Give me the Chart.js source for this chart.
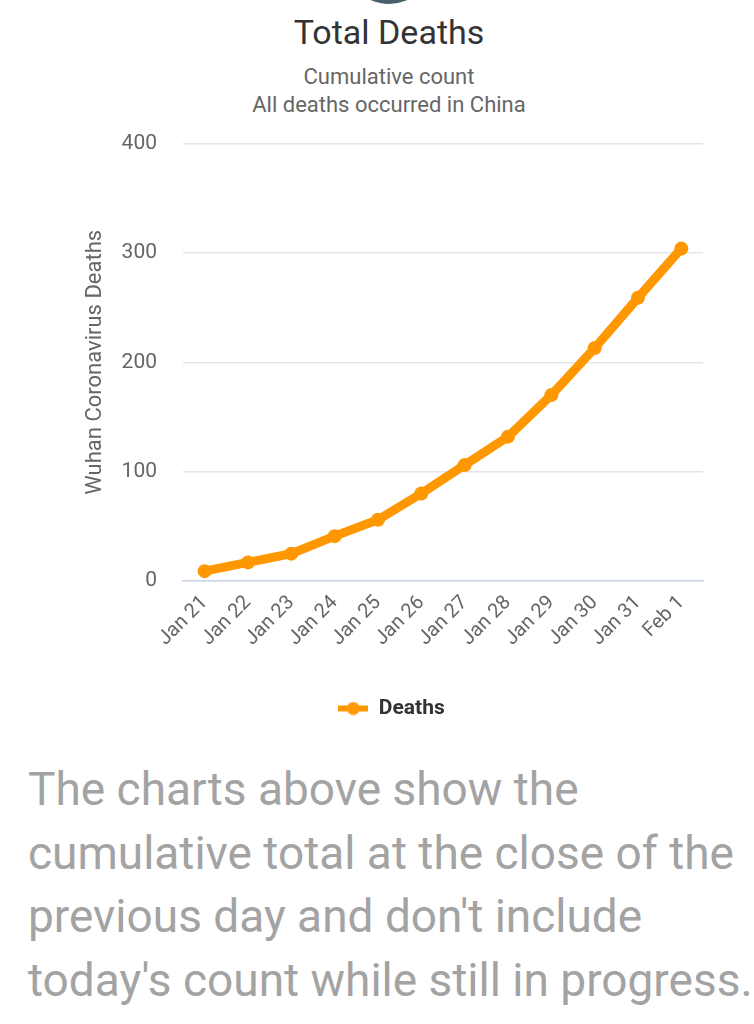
<!DOCTYPE html>
<html>
<head>
<meta charset="utf-8">
<script src="https://cdn.jsdelivr.net/npm/chart.js@4"></script>
<style>
  html, body { margin: 0; padding: 0; background: #fff; width: 754px; height: 1024px; overflow: hidden; font-family: Roboto, "Noto Sans", sans-serif; }
  .badge { position: absolute; left: 344px; top: -86px; width: 90px; height: 90px; border-radius: 50%; background: radial-gradient(circle at 50% 40%, #5e7885, #3f5763); }
  .head { position: absolute; left: 0; width: 778px; text-align: center; }
  .title { top: 12px; font-size: 34px; color: #333; }
  .sub { top: 63px; font-size: 22px; line-height: 28px; color: #666; }
  .wrap { position: absolute; left: 0; top: 105px; width: 754px; height: 624px; }
  .note { position: absolute; left: 28px; top: 758px; width: 726px; margin: 0; font-size: 46px; line-height: 63.5px; color: #a3a3a3; }
</style>
</head>
<body>
<div class="badge"></div>
<div class="head title">Total Deaths</div>
<div class="head sub">Cumulative count<br>All deaths occurred in China</div>
<div class="wrap"><canvas id="chart-deaths" width="754" height="624"></canvas></div>
<p class="note">The charts above show the cumulative total at the close of the previous day and don't include today's count while still in progress.</p>
<script>
  const days = ['Jan 21', 'Jan 22', 'Jan 23', 'Jan 24', 'Jan 25', 'Jan 26', 'Jan 27', 'Jan 28', 'Jan 29', 'Jan 30', 'Jan 31', 'Feb 1'];
  const deaths = [9, 17, 25, 41, 56, 80, 106, 132, 170, 213, 259, 304];
  const yTicks = [0, 100, 200, 300, 400];

  const ORANGE = '#ff9800';

  // legend symbol: short line with a dot, like the original
  function legendSymbol() {
    const c = document.createElement('canvas');
    c.width = 30; c.height = 14;
    const ctx = c.getContext('2d');
    ctx.fillStyle = ORANGE;
    ctx.fillRect(0, 4, 30, 6);
    ctx.beginPath();
    ctx.arc(15, 7, 6.5, 0, Math.PI * 2);
    ctx.fill();
    return c;
  }

  new Chart(document.getElementById('chart-deaths'), {
    type: 'line',
    data: {
      labels: days,
      datasets: [{
        label: 'Deaths',
        data: deaths,
        borderColor: ORANGE,
        backgroundColor: ORANGE,
        borderWidth: 9,
        pointRadius: 7,
        pointBackgroundColor: ORANGE,
        pointBorderWidth: 0,
        tension: 0,
      }],
    },
    options: {
      responsive: false,
      animation: false,
      layout: { padding: { left: 80, right: 51, top: 10, bottom: 0 } },
      plugins: {
        tooltip: { enabled: false },
        legend: {
          position: 'bottom',
          labels: {
            usePointStyle: true,
            pointStyle: legendSymbol(),
            pointStyleWidth: 30,
            color: '#333',
            font: { family: 'Roboto', size: 21, weight: 'bold' },
            padding: 14,
          },
        },
      },
      scales: {
        x: {
          offset: true,
          grid: { display: false, drawTicks: false },
          border: { color: '#ccd6eb', width: 1.5 },
          ticks: {
            color: '#666',
            font: { family: 'Roboto', size: 20 },
            minRotation: 45,
            maxRotation: 45,
            padding: 10,
            autoSkip: false,
          },
          afterFit(scale) { scale.height = 103; },
        },
        y: {
          min: 0,
          max: 400,
          afterBuildTicks(scale) { scale.ticks = yTicks.map((v) => ({ value: v })); },
          grid: { color: '#e6e6e6', lineWidth: 1.5, drawTicks: false },
          border: { display: false },
          ticks: { color: '#666', font: { family: 'Roboto', size: 21 }, padding: 26 },
          title: {
            display: true,
            text: 'Wuhan Coronavirus Deaths',
            color: '#666',
            font: { family: 'Roboto', size: 22 },
            padding: { top: 2, bottom: 0 },
          },
          afterFit(scale) { scale.width = 103; },
        },
      },
    },
  });
</script>
</body>
</html>
